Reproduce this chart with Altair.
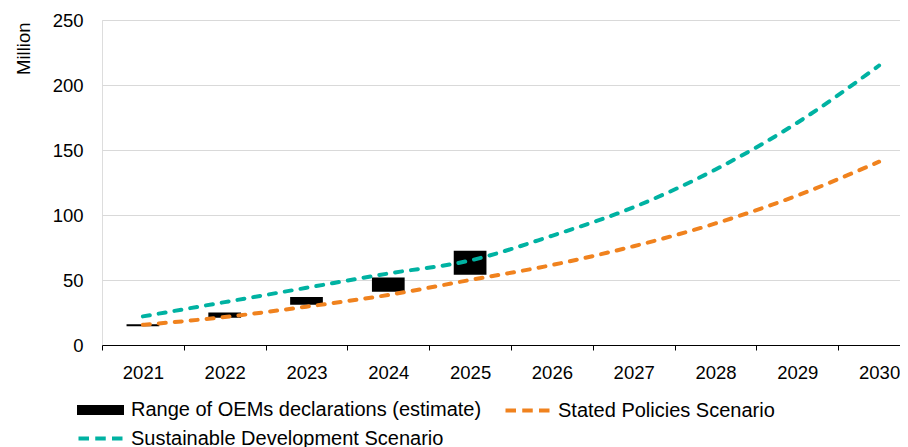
import altair as alt
import pandas as pd

# ---- data ----
years = ["2021", "2022", "2023", "2024", "2025", "2026", "2027", "2028", "2029", "2030"]
range_years = ["2021", "2022", "2023", "2024", "2025"]
range_low = [14.5, 21, 31, 41, 54]
range_high = [16, 25, 37, 52, 72.5]
stated = [15.5, 21.5, 29.5, 38.5, 50, 61.5, 76, 93.5, 115, 141]
sustainable = [22, 33, 44, 55, 65, 84, 106, 135, 171, 215]

S_RANGE = "Range of OEMs declarations (estimate)"
S_STEPS = "Stated Policies Scenario"
S_SDS = "Sustainable Development Scenario"
series_names = [S_RANGE, S_STEPS, S_SDS]
series_colors = ["#000000", "#F0821E", "#00B2A2"]

# legend symbol paths: a bar-like block and a dashed line, drawn wider than
# the nominal symbol box so that the legend rows stay compact
rect_path = "M-0.8,-0.3H3.5V0.3H-0.8Z"
dash_path = "M-0.85,0H0.2M0.825,0H1.875M2.5,0H3.55"
series_shapes = [rect_path, dash_path, dash_path]

bars_df = pd.DataFrame({"year": range_years, "low": range_low, "high": range_high})
lines_df = pd.DataFrame({
    "year": years * 2,
    "value": stated + sustainable,
    "series": [S_STEPS] * len(years) + [S_SDS] * len(years),
})

FONT = "Liberation Sans"

x_enc = alt.X(
    "year:N",
    sort=years,
    scale=alt.Scale(domain=years, paddingInner=0, paddingOuter=0),
    axis=alt.Axis(
        title=None,
        tickBand="extent",
        tickSize=5,
        tickColor="#000000",
        domainColor="#000000",
        domainWidth=1,
        labelFontSize=18.5,
        labelFont=FONT,
        labelColor="#000000",
        labelPadding=13.5,
        labelAngle=0,
        grid=False,
    ),
)
y_scale = alt.Scale(domain=[0, 250], nice=False)
y_axis = alt.Axis(
    title="Million",
    values=[0, 50, 100, 150, 200, 250],
    domain=False,
    ticks=False,
    tickSize=0,
    grid=True,
    gridColor="#D9D9D9",
    gridWidth=1,
    labelFontSize=18.5,
    labelFont=FONT,
    labelColor="#000000",
    labelPadding=19,
    titleFont=FONT,
    titleFontSize=18.5,
    titleFontWeight="normal",
    titleColor="#000000",
    titleAngle=270,
    titleX=-79,
    titleY=2,
    titleAlign="right",
    titleBaseline="middle",
)

bars = alt.Chart(bars_df).mark_bar(
    width=alt.RelativeBandSize(0.4), color="#000000"
).encode(
    x=x_enc,
    y=alt.Y("low:Q", scale=y_scale, axis=y_axis),
    y2="high:Q",
)

def line_layer(name, color):
    return alt.Chart(lines_df).transform_filter(
        alt.datum.series == name
    ).mark_line(
        color=color, strokeWidth=4, strokeDash=[7, 9], strokeCap="round",
        interpolate="monotone",
    ).encode(
        x=alt.X("year:N", sort=years),
        y=alt.Y("value:Q", scale=y_scale),
    )

steps_line = line_layer(S_STEPS, series_colors[1])
sds_line = line_layer(S_SDS, series_colors[2])

legend_def = alt.Legend(
    title=None,
    orient="none",
    direction="horizontal",
    legendX=-27,
    legendY=378,
    columns=2,
    columnPadding=15,
    rowPadding=5.5,
    symbolSize=400,
    symbolStrokeWidth=4,
    symbolOpacity=1,
    labelFont=FONT,
    labelFontSize=20,
    labelColor="#000000",
    labelOffset=32,
    labelLimit=600,
)

legend_layer = alt.Chart(lines_df).transform_filter(
    alt.datum.value < 0
).mark_point(filled=True, opacity=1).encode(
    color=alt.Color("series:N", scale=alt.Scale(domain=series_names, range=series_colors), legend=legend_def),
    stroke=alt.Stroke("series:N", scale=alt.Scale(domain=series_names, range=series_colors), legend=legend_def),
    shape=alt.Shape("series:N", scale=alt.Scale(domain=series_names, range=series_shapes), legend=legend_def),
)

chart = alt.layer(bars, steps_line, sds_line, legend_layer).properties(
    width=818,
    height=325,
    autosize=alt.AutoSizeParams(type="none"),
    padding={"left": 94, "top": 12, "right": -20, "bottom": 102},
).configure_view(stroke=None).configure(background="#ffffff")

chart.save("out.html", embed_options={"renderer": "svg", "actions": False})
